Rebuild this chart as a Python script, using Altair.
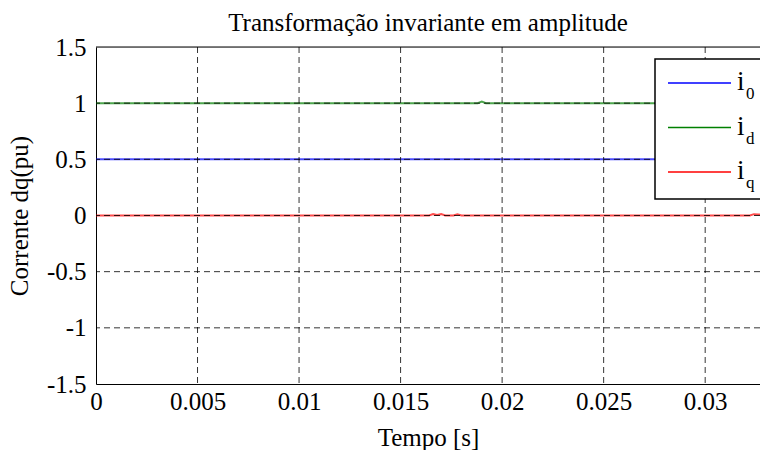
import altair as alt
import pandas as pd

# ---- data ----
tempo = [0, 0.0164, 0.0166, 0.0168, 0.0170, 0.0172, 0.0174, 0.0176, 0.0178, 0.0180,
         0.0188, 0.0190, 0.0192, 0.0322, 0.0324, 0.0326, 0.0327]
i_0 = [0.5] * len(tempo)
i_d = [1, 1, 1, 1, 1, 1, 1, 1, 1, 1, 1, 1.015, 1, 1, 1, 1, 1]
i_q = [0, 0, 0.012, 0.004, 0.012, 0, 0, 0, 0.01, 0, 0, 0, 0, 0, 0.012, 0.008, 0.01]

series_names = ["i0", "id", "iq"]
series_subs = ["0", "d", "q"]
series_colors = ["#0000ff", "#008000", "#ff0000"]

x_ticks = [0, 0.005, 0.01, 0.015, 0.02, 0.025, 0.03]
y_ticks = [-1.5, -1, -0.5, 0, 0.5, 1, 1.5]
x_grid = [0.005, 0.01, 0.015, 0.02, 0.025, 0.03]
y_grid = [-1, -0.5, 0, 0.5, 1]
title_text = "Transformação invariante em amplitude"

X_MAX = 0.0327
FONT = "Liberation Serif"
FS = 25

rows = []
for name, vals in zip(series_names, [i_0, i_d, i_q]):
    for t, v in zip(tempo, vals):
        rows.append({"t": t, "v": v, "s": name})
df = pd.DataFrame(rows)

xs = alt.Scale(domain=[0, X_MAX], nice=False, zero=False)
ys = alt.Scale(domain=[-1.5, 1.5], nice=False)

lines = alt.Chart(df).mark_line(strokeWidth=2, opacity=0.7).encode(
    x=alt.X("t:Q", scale=xs,
            axis=alt.Axis(values=x_ticks, title="Tempo [s]", grid=False, ticks=False,
                          labelExpr="'' + datum.value", labelFlush=False, labelOverlap=False,
                          labelPadding=5, labelFont=FONT, labelFontSize=FS, labelColor="black",
                          titleFont=FONT, titleFontSize=FS, titleFontWeight="normal",
                          titleColor="black", titleBaseline="alphabetic", titleY=61,
                          domainColor="black", domainWidth=1)),
    y=alt.Y("v:Q", scale=ys,
            axis=alt.Axis(values=y_ticks, title="Corrente dq(pu)", grid=False, ticks=False,
                          labelExpr="'' + datum.value", labelFlush=False, labelOverlap=False,
                          labelPadding=10, labelFont=FONT, labelFontSize=FS, labelColor="black",
                          titleFont=FONT, titleFontSize=FS, titleFontWeight="normal",
                          titleColor="black", titleBaseline="alphabetic", titleX=-69,
                          domainColor="black", domainWidth=1)),
    color=alt.Color("s:N", scale=alt.Scale(domain=series_names, range=series_colors), legend=None),
    detail="s:N",
)

gx = alt.Chart(pd.DataFrame({"x": x_grid})).mark_rule(
    color="black", strokeDash=[6, 4], strokeWidth=1, opacity=0.8
).encode(x=alt.X("x:Q", scale=xs))
gy = alt.Chart(pd.DataFrame({"y": y_grid})).mark_rule(
    color="black", strokeDash=[6, 4], strokeWidth=1, opacity=0.8
).encode(y=alt.Y("y:Q", scale=ys))

top_border = alt.Chart().mark_rule(color="black", strokeWidth=1).encode(y=alt.datum(1.5))

title_mark = alt.Chart().mark_text(
    text=title_text, font=FONT, fontSize=FS, align="center",
    baseline="alphabetic", color="black"
).encode(x=alt.value(332), y=alt.value(-16))

# legend (decoration, partially outside the visible window like the reference)
legend_box = alt.Chart().mark_rect(fill="white", stroke="black", strokeWidth=1.5).encode(
    x=alt.value(559), x2=alt.value(720), y=alt.value(12), y2=alt.value(152)
)
legend_layers = [legend_box]
for k, (sub, col) in enumerate(zip(series_subs, series_colors)):
    yrow = 36 + k * 44.5
    legend_layers.append(
        alt.Chart().mark_rule(color=col, strokeWidth=1.5).encode(
            x=alt.value(572), x2=alt.value(635), y=alt.value(yrow)))
    legend_layers.append(
        alt.Chart().mark_text(text="i", font=FONT, fontSize=27, align="left",
                              baseline="alphabetic", color="black").encode(
            x=alt.value(641), y=alt.value(yrow + 7)))
    legend_layers.append(
        alt.Chart().mark_text(text=sub, font=FONT, fontSize=17, align="left",
                              baseline="alphabetic", color="black").encode(
            x=alt.value(650), y=alt.value(yrow + 16)))

chart = alt.layer(lines, gx, gy, top_border, title_mark, *legend_layers).properties(
    width=664,
    height=337,
    padding={"left": 96, "top": 47, "right": 0, "bottom": 66},
    autosize=alt.AutoSizeParams(type="none"),
).configure_view(stroke=None).configure(background="white")

chart.save("out.html", embed_options={"renderer": "svg", "actions": False})
